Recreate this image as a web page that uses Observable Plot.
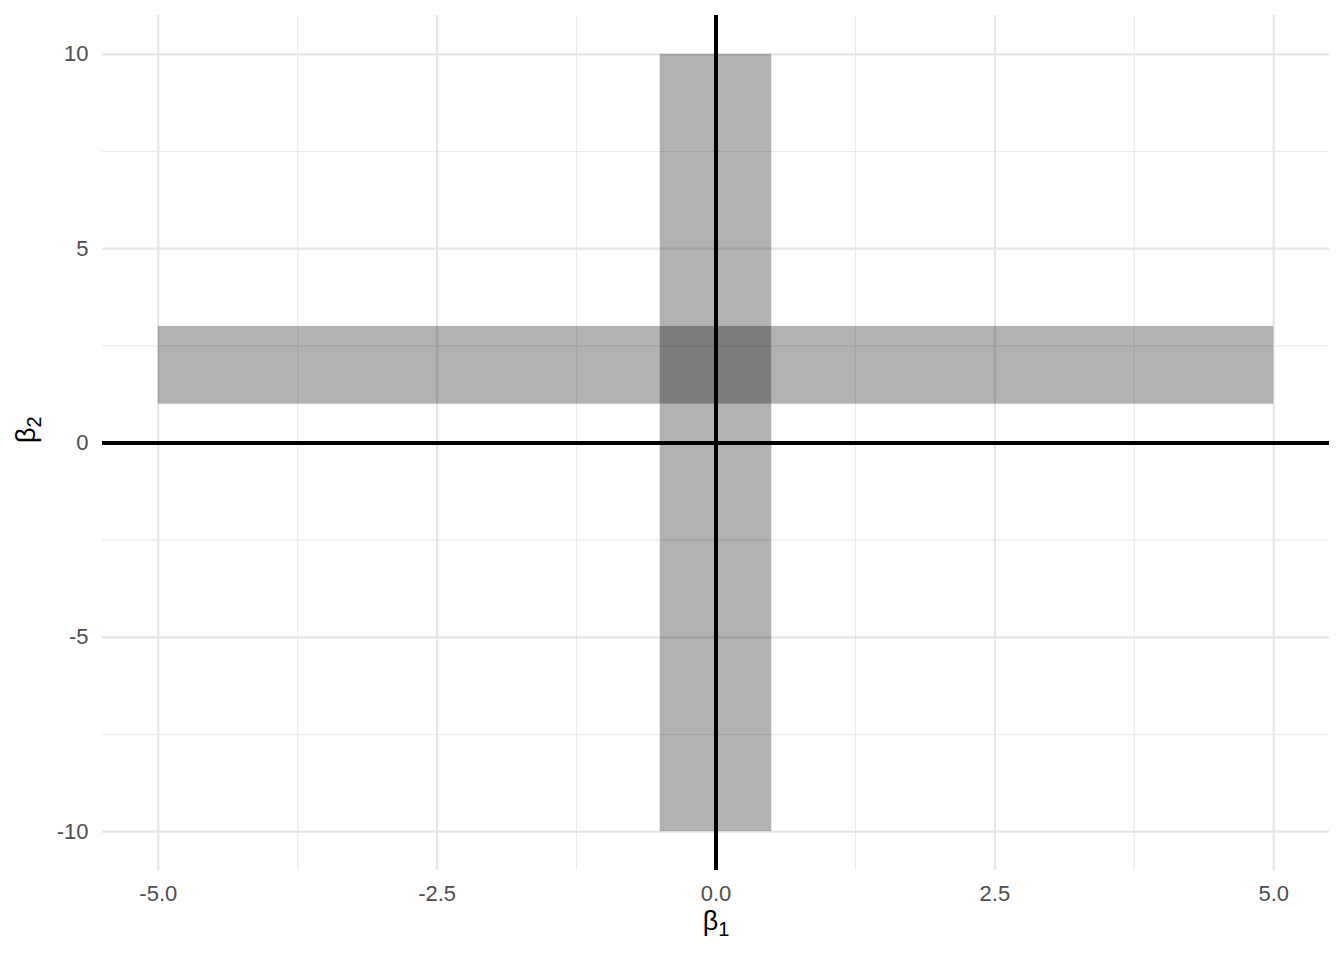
<!DOCTYPE html>
<html>
<head>
<meta charset="utf-8">
<script src="https://cdn.jsdelivr.net/npm/d3@7"></script>
<script src="https://cdn.jsdelivr.net/npm/@observablehq/plot@0.6"></script>
<style>
  html, body { margin: 0; padding: 0; background: #fff; }
  #chart svg { display: block; }
</style>
</head>
<body>
<div id="chart"></div>
<script>
// Regions (rectangles)
const regionNames = ["beta1 band", "beta2 band"];
const regionX1 = [-0.5, -5];
const regionX2 = [0.5, 5];
const regionY1 = [-10, 1];
const regionY2 = [10, 3];

// Reference lines
const refX = [0];
const refY = [0];

// Ticks
const xMajor = [-5, -2.5, 0, 2.5, 5];
const xMinor = [-3.75, -1.25, 1.25, 3.75];
const yMajor = [-10, -5, 0, 5, 10];
const yMinor = [-7.5, -2.5, 2.5, 7.5];

// Axis titles: symbol + subscript
const xTitle = ["β", "1"];
const yTitle = ["β", "2"];

const regions = regionNames.map((name, i) => ({
  name, x1: regionX1[i], x2: regionX2[i], y1: regionY1[i], y2: regionY2[i]
}));

const plot = Plot.plot({
  width: 1344,
  height: 960,
  marginLeft: 102,
  marginRight: 15,
  marginTop: 15,
  marginBottom: 90,
  style: { fontFamily: "'Liberation Sans', Arial, sans-serif", background: "#fff" },
  x: { domain: [-5.5, 5.5] },
  y: { domain: [-11, 11] },
  marks: [
    Plot.gridX(xMinor, { stroke: "#ebebeb", strokeOpacity: 1, strokeWidth: 1.1 }),
    Plot.gridY(yMinor, { stroke: "#ebebeb", strokeOpacity: 1, strokeWidth: 1.1 }),
    Plot.gridX(xMajor, { stroke: "#e6e6e6", strokeOpacity: 1, strokeWidth: 2.2 }),
    Plot.gridY(yMajor, { stroke: "#e6e6e6", strokeOpacity: 1, strokeWidth: 2.2 }),
    Plot.axisX(xMajor, {
      tickSize: 0, tickPadding: 15, fontSize: 22, fill: "#4d4d4d",
      tickFormat: d => d.toFixed(1), label: null
    }),
    Plot.axisY(yMajor, {
      tickSize: 0, tickPadding: 14, fontSize: 22, fill: "#4d4d4d",
      tickFormat: d => String(d), label: null
    }),
    Plot.rect(regions, {
      x1: "x1", x2: "x2", y1: "y1", y2: "y2",
      fill: "black", fillOpacity: 0.3
    }),
    Plot.ruleX(refX, { stroke: "black", strokeWidth: 4 }),
    Plot.ruleY(refY, { stroke: "black", strokeWidth: 4 }),
    Plot.text([xTitle], {
      frameAnchor: "bottom", text: d => d.join(""), dy: 59, fontSize: 27, fill: "black"
    }),
    Plot.text([yTitle], {
      frameAnchor: "left", text: d => d.join(""), dx: -76, rotate: -90, fontSize: 27, fill: "black"
    })
  ]
});

// Render subscripts as tspans
for (const t of [xTitle, yTitle]) {
  d3.select(plot).selectAll("text").filter(function () {
    return this.textContent === t.join("");
  }).each(function () {
    const el = d3.select(this);
    el.text(null);
    el.append("tspan").text(t[0]);
    el.append("tspan").attr("font-size", 20).attr("dy", 6).text(t[1]);
  });
}

document.getElementById("chart").appendChild(plot);
</script>
</body>
</html>
